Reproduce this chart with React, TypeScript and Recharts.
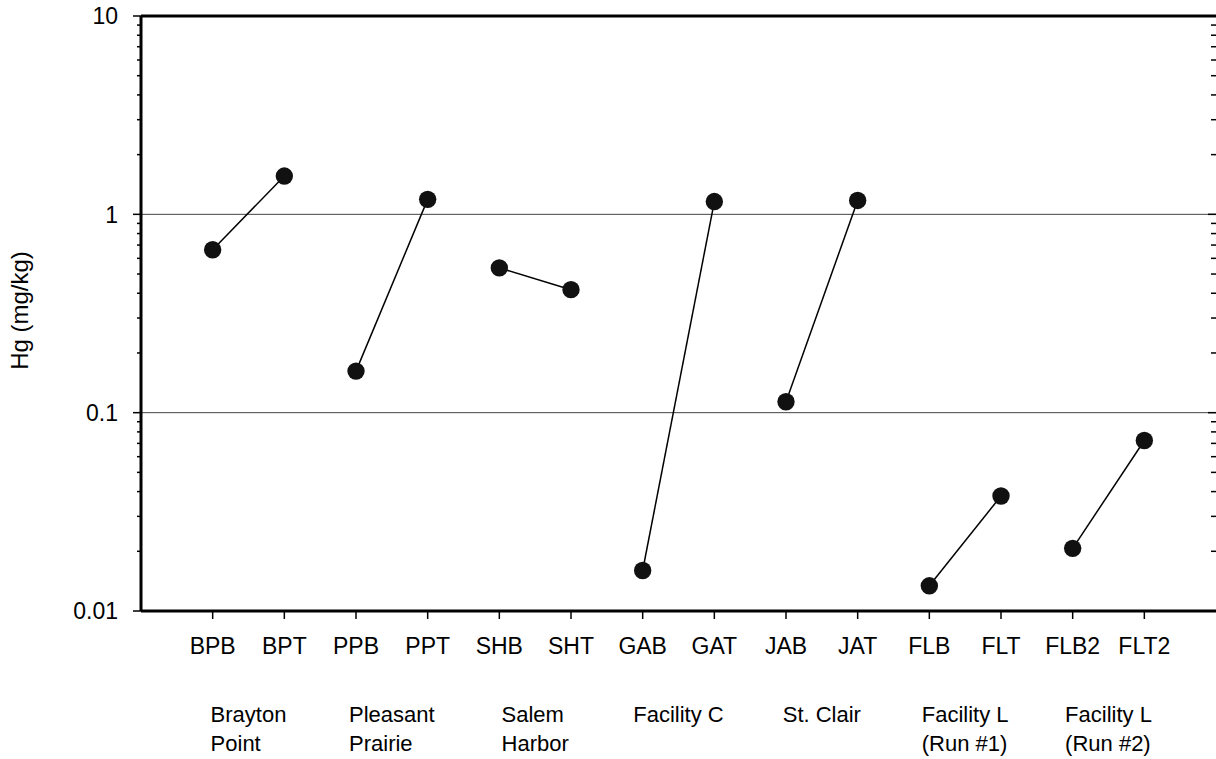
import React from 'react';
import { ScatterChart, Scatter, XAxis, YAxis, ReferenceLine } from 'recharts';

const FONT = "'Liberation Sans', Arial, Helvetica, sans-serif";

// sample codes along the x axis, in plotting order (B = before, T = after)
const sampleCodes = ['BPB', 'BPT', 'PPB', 'PPT', 'SHB', 'SHT', 'GAB', 'GAT', 'JAB', 'JAT', 'FLB', 'FLT', 'FLB2', 'FLT2'];

// Hg concentration for each sample, mg/kg
const hgValues = [0.663, 1.56, 0.162, 1.19, 0.537, 0.417, 0.016, 1.16, 0.1135, 1.175, 0.0134, 0.038, 0.0207, 0.0724];

// facility names, one per pair of samples (second row of the x axis)
const facilityNames = [
  ['Brayton', 'Point'],
  ['Pleasant', 'Prairie'],
  ['Salem', 'Harbor'],
  ['Facility C'],
  ['St. Clair'],
  ['Facility L', '(Run #1)'],
  ['Facility L', '(Run #2)'],
];

const decadeTicks = [0.01, 0.1, 1, 10];
const gridValues = [1, 0.1];

const logTicks: number[] = [];
for (let d = 0.01; d < 10; d *= 10) {
  for (let m = 1; m < 10; m++) logTicks.push(+(d * m).toPrecision(2));
}
logTicks.push(10);

const isMajor = (v: number) => decadeTicks.some((t) => Math.abs(t - v) / t < 1e-6);

const pairs = facilityNames.map((_, i) =>
  [0, 1].map((k) => ({ x: 2 * i + k + 1, y: hgValues[2 * i + k] }))
);
const allPoints = pairs.flat();
const codeTicks = sampleCodes.map((_, i) => i + 1);
const facilityTicks = facilityNames.map((_, i) => 2 * i + 1.5);

let ctx: CanvasRenderingContext2D | null = null;
const textWidth = (s: string, size: number) => {
  if (!ctx) ctx = document.createElement('canvas').getContext('2d');
  if (!ctx) return s.length * size * 0.5;
  ctx.font = `${size}px ${FONT}`;
  return ctx.measureText(s).width;
};

const LeftTick = (props: any) => {
  const { x, y, payload } = props;
  const major = isMajor(payload.value);
  return (
    <g>
      <line x1={x - (major ? 8 : 4)} x2={x} y1={y} y2={y} stroke="#000" strokeWidth={1.5} />
      {major && (
        <text x={x - 23} y={y} dy="0.36em" textAnchor="end" fontSize={23} fontFamily={FONT} fill="#000">
          {String(payload.value)}
        </text>
      )}
    </g>
  );
};

const RightTick = (props: any) => {
  const { x, y, payload } = props;
  const major = isMajor(payload.value);
  return <line x1={x - (major ? 8 : 5)} x2={x} y1={y} y2={y} stroke="#000" strokeWidth={1.5} />;
};

const CodeTick = (props: any) => {
  const { x, y, payload } = props;
  return (
    <text x={x} y={y} dy={16} textAnchor="middle" fontSize={23} fontFamily={FONT} fill="#000">
      {sampleCodes[payload.value - 1]}
    </text>
  );
};

const FacilityTick = (props: any) => {
  const { x, y, payload } = props;
  const lines = facilityNames[Math.round((payload.value - 1.5) / 2)] || [];
  const size = 22;
  const w = Math.max(...lines.map((l) => textWidth(l, size)));
  return (
    <text x={x - w / 2} y={y} textAnchor="start" fontSize={size} fontFamily={FONT} fill="#000">
      {lines.map((l, i) => (
        <tspan key={i} x={x - w / 2} y={y + 51 + i * 29}>
          {l}
        </tspan>
      ))}
    </text>
  );
};

const Dot = (props: any) => <circle cx={props.cx} cy={props.cy} r={8.7} fill="#111" />;
const NoDot = () => <g />;

export default function App() {
  return (
    <div style={{ position: 'absolute', left: 0, top: 0, width: 1216, height: 759, overflow: 'hidden', background: '#fff' }}>
      <ScatterChart width={1218} height={759} margin={{ top: 16, right: 0, bottom: 0, left: 0 }}>
        <XAxis
          type="number"
          dataKey="x"
          domain={[0, 15]}
          ticks={codeTicks}
          interval={0}
          height={60}
          tickSize={8}
          tickMargin={19}
          tick={CodeTick}
          axisLine={{ stroke: '#000', strokeWidth: 3 }}
          tickLine={{ stroke: '#000', strokeWidth: 1.5 }}
        />
        <XAxis
          xAxisId="facility"
          type="number"
          dataKey="x"
          domain={[0, 15]}
          ticks={facilityTicks}
          interval={0}
          height={88}
          tickSize={0}
          tickMargin={0}
          tick={FacilityTick}
          axisLine={false}
          tickLine={false}
        />
        <YAxis
          type="number"
          dataKey="y"
          scale="log"
          domain={[0.01, 10]}
          ticks={logTicks}
          interval={0}
          width={141}
          tickSize={0}
          tickMargin={0}
          tick={LeftTick}
          tickLine={false}
          axisLine={{ stroke: '#000', strokeWidth: 3 }}
          allowDataOverflow
          label={{
            content: ({ viewBox }: any) => {
              const cx = viewBox.x + 19;
              const cy = viewBox.y + viewBox.height / 2 - 3;
              return (
                <text
                  x={cx}
                  y={cy}
                  transform={`rotate(-90 ${cx} ${cy})`}
                  textAnchor="middle"
                  dominantBaseline="central"
                  fontSize={24}
                  fontFamily={FONT}
                  fill="#000"
                >
                  Hg (mg/kg)
                </text>
              );
            },
          }}
        />
        <YAxis
          yAxisId="right"
          orientation="right"
          type="number"
          dataKey="y"
          scale="log"
          domain={[0.01, 10]}
          ticks={logTicks}
          interval={0}
          width={2}
          tickSize={0}
          tickMargin={0}
          tick={RightTick}
          tickLine={false}
          axisLine={false}
          allowDataOverflow
        />
        <ReferenceLine y={10} stroke="#000" strokeWidth={3} />
        {gridValues.map((v) => (
          <ReferenceLine key={v} y={v} stroke="#444" strokeWidth={1} />
        ))}
        {/* invisible series so the facility axis and the right axis get scales */}
        <Scatter
          data={allPoints}
          xAxisId="facility"
          yAxisId="right"
          shape={NoDot}
          isAnimationActive={false}
        />
        {pairs.map((pts, i) => (
          <Scatter
            key={i}
            data={pts}
            line={{ stroke: '#000', strokeWidth: 1.5 }}
            shape={Dot}
            isAnimationActive={false}
          />
        ))}
      </ScatterChart>
    </div>
  );
}
